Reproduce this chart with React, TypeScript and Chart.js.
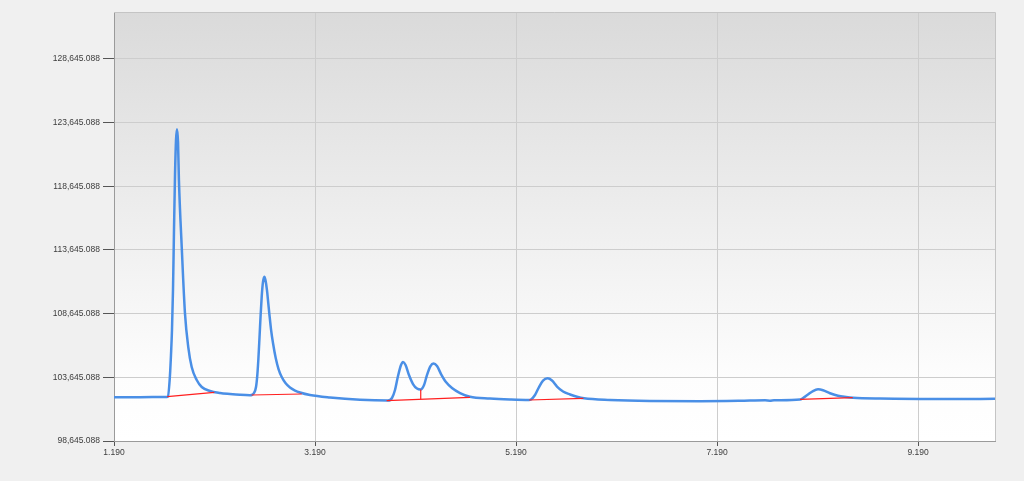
import { useEffect, useRef } from "react";
import { Chart, registerables } from "chart.js";

Chart.register(...registerables);

// Retention time (x) and detector signal (y) of the chromatogram trace
const timeX = [
  1.190, 1.449, 1.697, 1.727, 1.747, 1.757, 1.767, 1.777, 1.787, 1.797, 1.807, 1.817, 1.827, 1.836, 1.864,
  1.896, 1.929, 1.963, 2.013, 2.063, 2.145, 2.245, 2.344, 2.444, 2.543,
  2.560, 2.583, 2.603, 2.616, 2.626, 2.638, 2.649, 2.660, 2.671, 2.686, 2.697, 2.712, 2.725, 2.737, 2.752, 2.772,
  2.799, 2.827, 2.859, 2.896, 2.941, 2.991, 3.041, 3.140, 3.339, 3.638, 3.916,
  3.956, 3.986, 4.016, 4.046, 4.066, 4.091, 4.125, 4.165, 4.205, 4.240, 4.275, 4.304, 4.339, 4.369, 4.404, 4.444,
  4.493, 4.553, 4.633, 4.732, 4.931, 5.130, 5.319,
  5.339, 5.379, 5.419, 5.459, 5.504, 5.548, 5.598, 5.658, 5.728, 5.797, 5.867, 6.125, 6.523, 7.021, 7.419, 7.668,
  7.717, 7.757, 8.016,
  8.046, 8.095, 8.145, 8.195, 8.245, 8.314, 8.394, 8.474, 8.543, 8.812, 9.508, 9.956,
];
const signalY = [
  102075, 102083, 102099, 102138, 103826, 105396, 107359, 110499, 115209, 119526, 122274, 123137, 122117, 119134, 113874,
  108693, 106024, 104454, 103434, 102884, 102570, 102413, 102335, 102272, 102240,
  102256, 102413, 102884, 103826, 105004, 106809, 108536, 110028, 111048, 111543, 111284, 110499, 109478, 108536, 107437, 106338,
  105161, 104297, 103669, 103198, 102845, 102609, 102452, 102256, 102060, 101879, 101816,
  102021, 102649, 103748, 104611, 104847, 104611, 103826, 103120, 102766, 102688, 103041, 103826, 104533, 104729, 104533, 103905,
  103277, 102806, 102413, 102123, 101981, 101903, 101864,
  101903, 102256, 102884, 103394, 103567, 103394, 102923, 102531, 102295, 102115, 101997, 101864, 101785, 101769, 101801, 101840,
  101815, 101840, 101903,
  102021, 102295, 102570, 102703, 102633, 102397, 102193, 102099, 102044, 101981, 101942, 101958,
];

// Integration baselines (red)
const baseStartX = [1.720, 2.560, 3.903, 5.322, 8.016];
const baseStartY = [102123, 102256, 101809, 101864, 101919];
const baseEndX = [2.188, 3.058, 4.732, 5.860, 8.540];
const baseEndY = [102468, 102335, 102075, 101997, 102044];

// Perpendicular drop between the two fused peaks
const dropX = [4.242];
const dropBottomY = [101920];
const dropTopY = [102688];

const xTickValues = [1.19, 3.19, 5.19, 7.19, 9.19];
const yTickValues = [98645.088, 103645.088, 108645.088, 113645.088, 118645.088, 123645.088, 128645.088];
const X_MIN = 1.19;
const X_MAX = 9.956;
const Y_MIN = 98645.088;
const Y_MAX = 132335;

const plotDecor = {
  id: "plotDecor",
  beforeDraw(chart: any) {
    const { ctx, chartArea } = chart;
    if (!chartArea) return;
    const g = ctx.createLinearGradient(0, chartArea.top, 0, chartArea.bottom);
    g.addColorStop(0, "#dadada");
    g.addColorStop(0.85, "#fdfdfd");
    g.addColorStop(1, "#ffffff");
    ctx.save();
    ctx.fillStyle = g;
    ctx.fillRect(chartArea.left, chartArea.top, chartArea.right - chartArea.left, chartArea.bottom - chartArea.top);
    ctx.restore();
  },
  afterDraw(chart: any) {
    const { ctx, chartArea } = chart;
    ctx.save();
    ctx.strokeStyle = "#c4c4c4";
    ctx.lineWidth = 1;
    ctx.beginPath();
    ctx.moveTo(chartArea.left, chartArea.top + 0.5);
    ctx.lineTo(chartArea.right + 0.5, chartArea.top + 0.5);
    ctx.lineTo(chartArea.right + 0.5, chartArea.bottom);
    ctx.stroke();
    ctx.restore();
  },
};

export default function App() {
  const canvasRef = useRef<HTMLCanvasElement | null>(null);

  useEffect(() => {
    document.body.style.margin = "0";
    const canvas = canvasRef.current;
    if (!canvas) return;

    const trace = timeX.map((x, i) => ({ x, y: signalY[i] }));
    const baseSets = baseStartX.map((x, i) => ({
      type: "line" as const,
      data: [
        { x, y: baseStartY[i] },
        { x: baseEndX[i], y: baseEndY[i] },
      ],
      borderColor: "#ff1f1f",
      borderWidth: 1.2,
      pointRadius: 0,
      tension: 0,
      order: 0,
    }));
    const dropSets = dropX.map((x, i) => ({
      type: "line" as const,
      data: [
        { x, y: dropBottomY[i] },
        { x, y: dropTopY[i] },
      ],
      borderColor: "#ff1f1f",
      borderWidth: 1.2,
      pointRadius: 0,
      tension: 0,
      order: 0,
    }));

    const font = { family: "'Liberation Sans', Arial, sans-serif", size: 8.5 };

    const chart = new Chart(canvas, {
      type: "line",
      data: {
        datasets: [
          {
            data: trace,
            borderColor: "#4a8fe6",
            borderWidth: 2.5,
            pointRadius: 0,
            cubicInterpolationMode: "monotone",
            order: 1,
          },
          ...baseSets,
          ...dropSets,
        ] as any,
      },
      options: {
        animation: false,
        responsive: false,
        devicePixelRatio: 1,
        parsing: true,
        layout: { padding: { top: 12, right: 29, left: 0, bottom: 0 } },
        plugins: { legend: { display: false }, tooltip: { enabled: false } },
        scales: {
          x: {
            type: "linear",
            min: X_MIN,
            max: X_MAX,
            afterBuildTicks: (scale: any) => {
              scale.ticks = xTickValues.map((v) => ({ value: v }));
            },
            afterFit: (scale: any) => {
              scale.height = 40;
            },
            ticks: {
              autoSkip: false,
              maxRotation: 0,
              padding: 2,
              color: "#3c3c3c",
              font,
              callback: (v: any) => Number(v).toFixed(3),
            },
            grid: {
              color: "#cdcdcd",
              tickColor: "#555555",
              tickLength: 5,
              drawTicks: true,
            },
            border: { color: "#9a9a9a", width: 1 },
          },
          y: {
            type: "linear",
            min: Y_MIN,
            max: Y_MAX,
            afterBuildTicks: (scale: any) => {
              scale.ticks = yTickValues.map((v) => ({ value: v }));
            },
            afterFit: (scale: any) => {
              scale.width = 114;
            },
            ticks: {
              autoSkip: false,
              padding: 3,
              color: "#3c3c3c",
              font,
              callback: (v: any) =>
                Number(v).toLocaleString("en-US", { minimumFractionDigits: 3, maximumFractionDigits: 3 }),
            },
            grid: {
              color: "#cdcdcd",
              tickColor: "#555555",
              tickLength: 11,
              drawTicks: true,
            },
            border: { color: "#9a9a9a", width: 1 },
          },
        },
      } as any,
      plugins: [plotDecor],
    });

    return () => chart.destroy();
  }, []);

  return (
    <div style={{ width: 1024, height: 481, background: "#f0f0f0" }}>
      <canvas ref={canvasRef} width={1024} height={481} style={{ display: "block" }} />
    </div>
  );
}
